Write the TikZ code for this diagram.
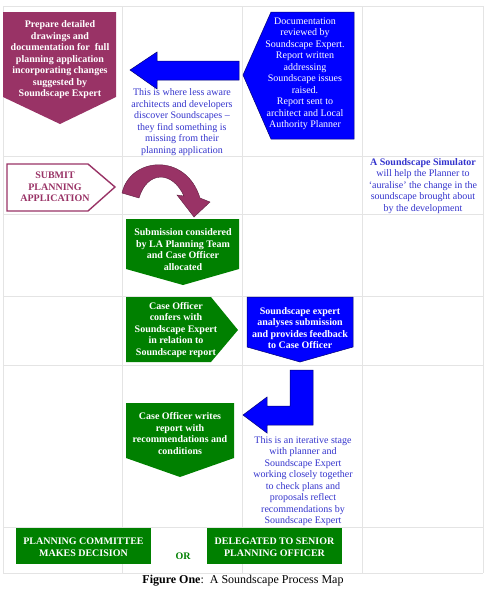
\documentclass[tikz,border=0pt]{standalone}
\usepackage{fontspec}
\setmainfont{Liberation Serif}
\definecolor{maroon}{HTML}{993366}
\definecolor{darkmaroon}{HTML}{5E1F40}
\definecolor{leafgreen}{HTML}{008000}
\definecolor{noteblue}{HTML}{3333CC}
\definecolor{gridgray}{HTML}{E4E4E4}
\begin{document}
\begin{tikzpicture}[x=1pt,y=-1pt,
  txt/.style={align=center,inner sep=0pt,font=\fontsize{10}{11.5}\selectfont},
  whitetxt/.style={txt,text=white,font=\fontsize{10}{11.5}\selectfont\bfseries},
  bluebox/.style={fill=blue,draw=blue!45!black,line width=.5pt},
  greenbox/.style={fill=leafgreen},
  notetxt/.style={txt,text=noteblue}]
\useasboundingbox (0,0) rectangle (487,589);

% table grid
\foreach \x in {3,122,242,362,483}
  \draw [gridgray,line width=.6pt] (\x,6) -- (\x,573);
\foreach \y in {6,156,214,296,365,527,573}
  \draw [gridgray,line width=.6pt] (3,\y) -- (483,\y);

% row 1
\fill [maroon] (3,12) -- (116,12) -- (116,97) -- (60,124) -- (3,97) -- cycle;
\node [whitetxt] (prepare) at (60,60) {Prepare detailed\\drawings and\\documentation for\ \ full\\planning application\\incorporating changes\\suggested by\\Soundscape Expert};
\draw [bluebox] (130,70) -- (157,52) -- (157,61) -- (239,61) -- (239,80) -- (157,80) -- (157,89) -- cycle;
\node [notetxt] (aware) at (182,122) {This is where less aware\\architects and developers\\discover Soundscapes --\\they find something is\\missing from their\\planning application};
\draw [bluebox] (243,75) -- (271,12) -- (354,12) -- (354,139) -- (271,139) -- cycle;
\node [txt,text=white] (review) at (305,74) {Documentation\\reviewed by\\Soundscape Expert.\\Report written\\addressing\\Soundscape issues\\raised.\\Report sent to\\architect and Local\\Authority Planner};

% row 2
\draw [maroon,line width=1.4pt,fill=white] (7,164) -- (88,164) -- (115,187) -- (88,211) -- (7,211) -- cycle;
\node [txt,text=maroon,font=\fontsize{10}{11.5}\selectfont\bfseries] (submit) at (55,187) {SUBMIT\\PLANNING\\APPLICATION};
\draw [fill=maroon,draw=darkmaroon,line width=.4pt]
  (122,193) .. controls (130,157) and (186,152) .. (200,198)
  -- (210,202) -- (194,217) -- (177,195) -- (184,196)
  .. controls (172,170) and (147,171) .. (139,198) -- cycle;
\node [notetxt] (simulator) at (423,186) {\textbf{A Soundscape Simulator}\\will help the Planner to\\`auralise' the change in the\\soundscape brought about\\by the development};

% row 3
\fill [greenbox] (126,219) -- (239,219) -- (239,269) -- (183,285) -- (126,269) -- cycle;
\node [whitetxt] (considered) at (183,249.5) {Submission considered\\by LA Planning Team\\and Case Officer\\allocated};

% row 4
\fill [greenbox] (126,297) -- (211,297) -- (238,330) -- (211,362) -- (126,362) -- cycle;
\node [whitetxt] (confers) at (176,330) {Case Officer\\confers with\\Soundscape Expert\\in relation to\\Soundscape report};
\draw [bluebox] (247,297) -- (353,297) -- (353,347) -- (300,362) -- (247,347) -- cycle;
\node [whitetxt] (analyses) at (300,328) {Soundscape expert\\analyses submission\\and provides feedback\\to Case Officer};

% row 5
\draw [bluebox] (243,415) -- (267,397) -- (267,406) -- (290,406) -- (290,370) -- (313,370) -- (313,425) -- (267,425) -- (267,433) -- cycle;
\fill [greenbox] (126,403) -- (234,403) -- (234,458) -- (180,477) -- (126,458) -- cycle;
\node [whitetxt] (writes) at (180,433.5) {Case Officer writes\\report with\\recommendations and\\conditions};
\node [notetxt] (iterative) at (303,481) {This is an iterative stage\\with planner and\\Soundscape Expert\\working closely together\\to check plans and\\proposals reflect\\recommendations by\\Soundscape Expert};

% row 6
\fill [greenbox] (16,528) rectangle (151,564);
\node [whitetxt] (committee) at (83.5,547) {PLANNING COMMITTEE\\MAKES DECISION};
\node [txt,text=leafgreen,font=\fontsize{10}{11.5}\selectfont\bfseries] (or) at (183,556) {OR};
\fill [greenbox] (207,528) rectangle (342,564);
\node [whitetxt] (delegated) at (274.5,547) {DELEGATED TO SENIOR\\PLANNING OFFICER};

% caption
\node [inner sep=0pt,font=\fontsize{12}{14}\selectfont] (caption) at (243,581) {\textbf{Figure One}:\ \ A Soundscape Process Map};
\end{tikzpicture}
\end{document}
